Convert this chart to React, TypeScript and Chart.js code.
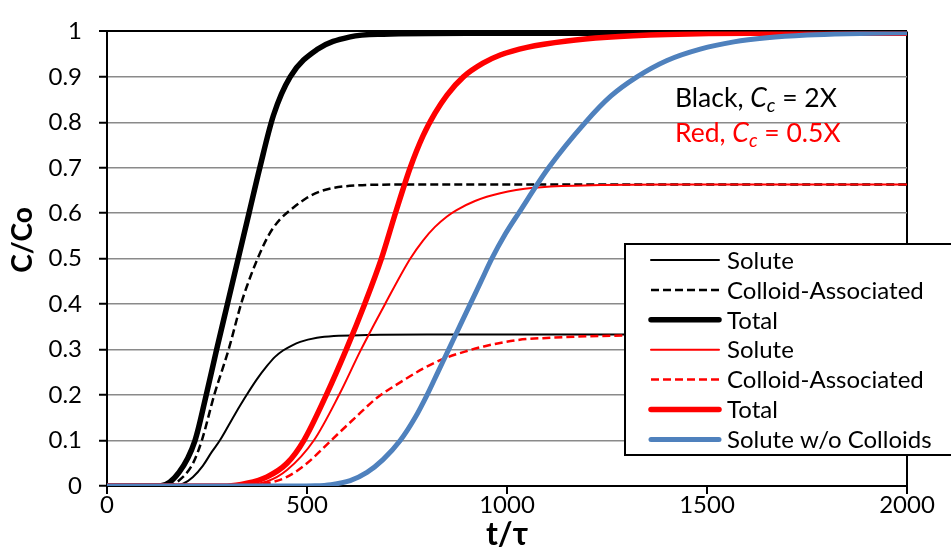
import React, { useEffect, useRef } from 'react';
import { Chart, registerables } from 'chart.js';

Chart.register(...registerables);

// ---- Data (t/τ, C/Co) ----
const blackSoluteT = [0, 150, 190, 215, 240, 262, 282, 320, 349, 375, 400, 420, 440, 462, 483, 525, 567, 650, 800, 2000];
const blackSoluteC = [0, 0, 0.005, 0.02, 0.045, 0.075, 0.1, 0.158, 0.2, 0.235, 0.264, 0.284, 0.298, 0.309, 0.317, 0.326, 0.33, 0.332, 0.333, 0.333];

const blackColloidT = [0, 150, 190, 215, 237, 268, 304, 335, 350, 375, 400, 415, 433, 467, 500, 533, 567, 620, 720, 2000];
const blackColloidC = [0, 0, 0.02, 0.05, 0.1, 0.2, 0.3, 0.4, 0.44, 0.497, 0.545, 0.567, 0.587, 0.613, 0.634, 0.648, 0.656, 0.661, 0.663, 0.663];

const blackTotalT = [0, 132, 180, 220, 248, 274, 301, 328, 355, 382, 416, 458, 525, 608, 691, 900, 2000];
const blackTotalC = [0, 0, 0.03, 0.1, 0.2, 0.3, 0.4, 0.5, 0.6, 0.7, 0.815, 0.9, 0.96, 0.988, 0.994, 0.996, 0.996];

const redSoluteT = [0, 300, 400, 450, 517, 580, 635, 695, 758, 790, 820, 850, 874, 920, 983, 1067, 1192, 1400, 2000];
const redSoluteC = [0, 0, 0.01, 0.035, 0.1, 0.2, 0.3, 0.4, 0.5, 0.54, 0.57, 0.593, 0.607, 0.627, 0.644, 0.656, 0.661, 0.663, 0.663];

const redColloidT = [0, 350, 400, 450, 500, 560, 620, 675, 733, 790, 842, 900, 942, 1025, 1108, 1233, 1400, 1600, 2000];
const redColloidC = [0, 0, 0.006, 0.02, 0.05, 0.1, 0.15, 0.194, 0.228, 0.258, 0.28, 0.297, 0.307, 0.321, 0.326, 0.33, 0.332, 0.333, 0.333];

const redTotalT = [0, 300, 350, 400, 450, 492, 548, 598, 644, 686, 721, 758, 790, 820, 850, 891, 940, 983, 1050, 1150, 1250, 1400, 1600, 2000];
const redTotalC = [0, 0, 0.006, 0.02, 0.05, 0.1, 0.2, 0.3, 0.4, 0.5, 0.6, 0.7, 0.77, 0.82, 0.86, 0.9, 0.93, 0.948, 0.965, 0.979, 0.987, 0.993, 0.996, 0.996];

const blueT = [0, 470, 520, 560, 608, 650, 690, 733, 770, 800, 827, 854, 881, 908, 935, 962, 995, 1029, 1104, 1196, 1260, 1325, 1400, 1483, 1567, 1650, 1750, 1850, 2000];
const blueC = [0, 0, 0.0005, 0.003, 0.012, 0.03, 0.058, 0.1, 0.15, 0.2, 0.25, 0.3, 0.35, 0.4, 0.45, 0.5, 0.553, 0.6, 0.7, 0.8, 0.858, 0.9, 0.936, 0.961, 0.977, 0.986, 0.992, 0.995, 0.997];

const seriesLabels = [
  'Solute',
  'Colloid-Associated',
  'Total',
  'Solute',
  'Colloid-Associated',
  'Total',
  'Solute w/o Colloids',
];

const xTitle = 't/τ';
const yTitle = 'C/Co';

const noteRows = [
  { prefix: 'Black, ', sym: 'C', sub: 'c', suffix: ' = 2X', color: '#000000' },
  { prefix: 'Red, ', sym: 'C', sub: 'c', suffix: ' = 0.5X', color: '#FF0000' },
];

const FONT = 'Lato, "Open Sans", sans-serif';

const toPoints = (t: number[], c: number[]) => t.map((x, i) => ({ x, y: c[i] }));

const mk = (label: string, t: number[], c: number[], color: string, width: number, dash: number[], order: number) => ({
  label,
  data: toPoints(t, c),
  borderColor: color,
  backgroundColor: color,
  borderWidth: width,
  borderDash: dash,
  pointRadius: 0,
  pointHoverRadius: 0,
  fill: false,
  cubicInterpolationMode: 'monotone' as const,
  order,
});

const boxLegend = {
  id: 'boxLegend',
  afterDraw(chart: any) {
    const ctx: CanvasRenderingContext2D = chart.ctx;
    ctx.save();
    // y-axis title
    ctx.save();
    ctx.translate(23, 240);
    ctx.rotate(-Math.PI / 2);
    ctx.fillStyle = '#000000';
    ctx.font = `bold 28px ${FONT}`;
    ctx.textAlign = 'center';
    ctx.textBaseline = 'middle';
    ctx.fillText(yTitle, 0, 0);
    ctx.restore();

    // legend box
    const x0 = 625, y0 = 244, x1 = 965, y1 = 455;
    ctx.fillStyle = '#ffffff';
    ctx.fillRect(x0, y0, x1 - x0, y1 - y0);
    ctx.strokeStyle = '#000000';
    ctx.lineWidth = 2;
    ctx.setLineDash([]);
    ctx.strokeRect(x0, y0, x1 - x0, y1 - y0);
    chart.data.datasets.forEach((ds: any, i: number) => {
      const y = 260 + i * 29.9;
      ctx.beginPath();
      const dashed = ds.borderDash && ds.borderDash.length > 0;
      ctx.setLineDash(dashed ? ds.borderDash : []);
      ctx.lineCap = dashed ? 'butt' : 'round';
      ctx.lineWidth = ds.borderWidth;
      ctx.strokeStyle = ds.borderColor;
      ctx.moveTo(651, y);
      ctx.lineTo(719, y);
      ctx.stroke();
      ctx.setLineDash([]);
      ctx.fillStyle = '#000000';
      ctx.font = `24px ${FONT}`;
      ctx.textBaseline = 'middle';
      ctx.textAlign = 'left';
      ctx.fillText(ds.label, 727, y + 1);
    });
    // annotation
    const baseX = 675;
    const baselines = [107, 142];
    noteRows.forEach((row, i) => {
      const by = baselines[i];
      let x = baseX;
      ctx.fillStyle = row.color;
      ctx.textBaseline = 'alphabetic';
      ctx.textAlign = 'left';
      ctx.font = `26.5px ${FONT}`;
      ctx.fillText(row.prefix, x, by);
      x += ctx.measureText(row.prefix).width;
      ctx.font = `italic 26.5px ${FONT}`;
      ctx.fillText(row.sym, x, by);
      x += ctx.measureText(row.sym).width;
      ctx.font = `italic 19px ${FONT}`;
      ctx.fillText(row.sub, x, by + 5);
      x += ctx.measureText(row.sub).width;
      ctx.font = `26.5px ${FONT}`;
      ctx.fillText(row.suffix, x, by);
    });
    ctx.restore();
  },
};

export default function App() {
  const ref = useRef<HTMLCanvasElement>(null);

  useEffect(() => {
    const datasets = [
      mk(seriesLabels[0], blackSoluteT, blackSoluteC, '#000000', 2, [], 7),
      mk(seriesLabels[1], blackColloidT, blackColloidC, '#000000', 2.5, [8, 4], 6),
      mk(seriesLabels[2], blackTotalT, blackTotalC, '#000000', 5.5, [], 5),
      mk(seriesLabels[3], redSoluteT, redSoluteC, '#FF0000', 2, [], 4),
      mk(seriesLabels[4], redColloidT, redColloidC, '#FF0000', 2.5, [8, 4], 3),
      mk(seriesLabels[5], redTotalT, redTotalC, '#FF0000', 5.5, [], 2),
      mk(seriesLabels[6], blueT, blueC, '#4F81BD', 5, [], 1),
    ];

    const chart = new Chart(ref.current as HTMLCanvasElement, {
      type: 'line',
      data: { datasets },
      plugins: [boxLegend],
      options: {
        animation: false,
        responsive: false,
        events: [],
        layout: { padding: { top: 25, right: 44, left: 0, bottom: 0 } },
        plugins: { legend: { display: false }, tooltip: { enabled: false } },
        scales: {
          x: {
            type: 'linear',
            min: 0,
            max: 2000,
            afterFit: (s: any) => { s.height = 73; },
            ticks: {
              stepSize: 500,
              color: '#000',
              font: { family: FONT, size: 24 },
              padding: -3,
              maxRotation: 0,
              callback: (v: any) => String(v),
            },
            grid: {
              color: (c: any) => (c.tick && c.tick.value === 2000 ? '#000000' : 'rgba(0,0,0,0)'),
              lineWidth: 2,
              tickColor: '#000000',
              tickLength: 8,
              tickWidth: 2,
              drawOnChartArea: true,
            },
            border: { color: '#000000', width: 2 },
            title: {
              display: true,
              text: xTitle,
              color: '#000',
              font: { family: FONT, size: 32, weight: 'bold' },
              padding: { top: 0, bottom: 5 },
            },
          },
          y: {
            type: 'linear',
            min: 0,
            max: 1,
            afterFit: (s: any) => { s.width = 107; },
            ticks: {
              stepSize: 0.1,
              color: '#000',
              font: { family: FONT, size: 24 },
              padding: 17,
              callback: (v: any) => String(Math.round(Number(v) * 10) / 10),
            },
            grid: {
              color: (c: any) => (c.tick && Math.abs(c.tick.value - 1) < 1e-9 ? '#000000' : '#8a8a8a'),
              lineWidth: (c: any) => (c.tick && Math.abs(c.tick.value - 1) < 1e-9 ? 2 : 1.5),
              tickColor: '#000000',
              tickLength: 8,
              tickWidth: 2,
            },
            border: { color: '#000000', width: 2 },
            title: { display: false },
          },
        },
      },
    } as any);

    return () => chart.destroy();
  }, []);

  return (
    <div style={{ position: 'absolute', left: 0, top: 0, width: 951, height: 559, background: '#ffffff' }}>
      <canvas ref={ref} width={951} height={559} style={{ display: 'block', width: 951, height: 559 }} />
    </div>
  );
}
